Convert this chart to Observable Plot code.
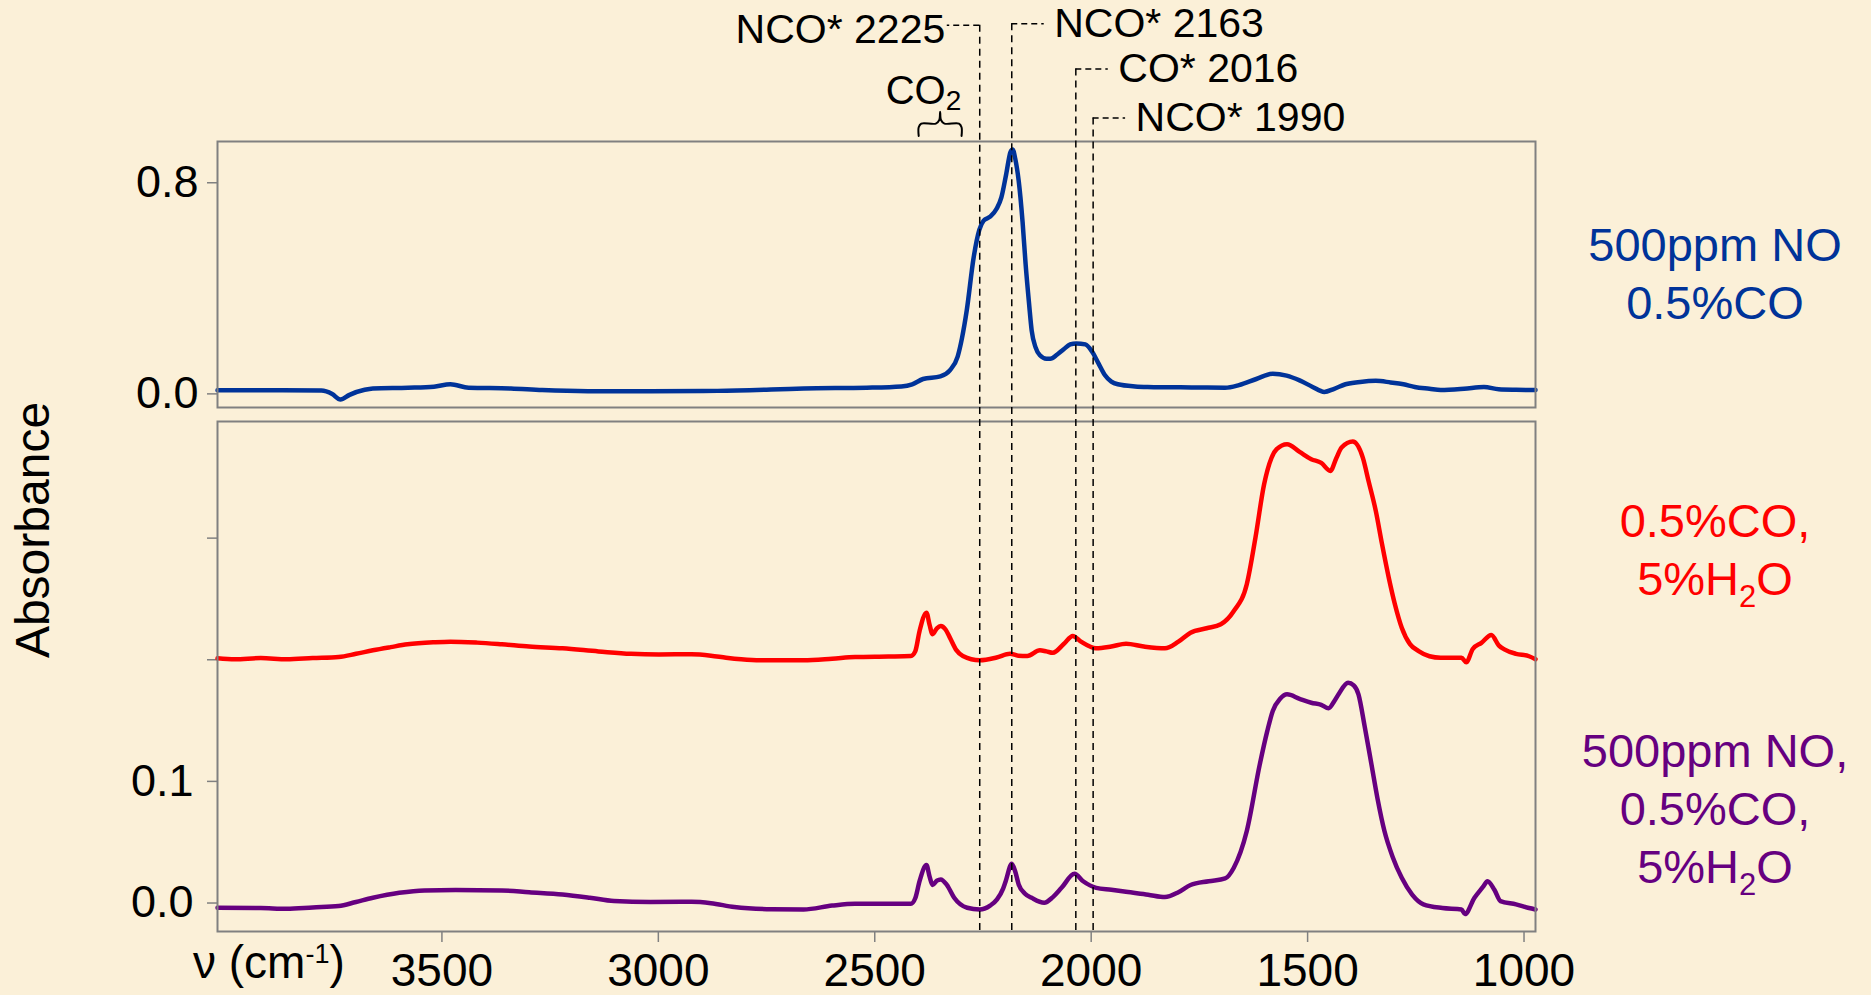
<!DOCTYPE html>
<html>
<head>
<meta charset="utf-8">
<script src="https://cdn.jsdelivr.net/npm/d3@7"></script>
<script src="https://cdn.jsdelivr.net/npm/@observablehq/plot@0.6"></script>
<style>
html, body { margin: 0; padding: 0; background: #FBF0D8; }
#chart { position: relative; width: 1871px; height: 995px; overflow: hidden;
  font-family: "Liberation Sans", Arial, sans-serif; background: #FBF0D8; }
#chart svg { position: absolute; left: 0; top: 0; }
.lab { position: absolute; white-space: nowrap; color: #000; }
.lab sub { font-size: 31px; vertical-align: -12px; line-height: 0; }
.lab sup { font-size: 27px; vertical-align: 15px; line-height: 0; }
</style>
</head>
<body>
<div id="chart"></div>
<script>
// ---------------- DATA ----------------
// wavenumber (cm-1) and absorbance
const blueWn = [4000,3850,3760,3735,3716,3695,3660,3641,3560,3500,3462,3420,3322,3250,3144,3000,2845,2700,2646,2500,2420,2395,2370,2330,2308,2290,2280,2269,2253,2240,2230,2215,2200,2189,2178,2168,2163,2157,2149,2140,2133,2125,2119,2110,2100,2085,2076,2060,2045,2030,2016,1995,1980,1965,1950,1935,1920,1880,1851,1750,1672,1640,1600,1562,1530,1500,1470,1443,1420,1394,1360,1324,1290,1260,1234,1200,1174,1120,1074,1040,1000,955];
const blueAbs = [0.002,0.002,0.001,-0.012,-0.033,-0.015,0.004,0.009,0.012,0.016,0.025,0.012,0.009,0.003,-0.001,-0.001,0.000,0.006,0.009,0.012,0.017,0.025,0.045,0.055,0.078,0.13,0.2,0.305,0.506,0.61,0.645,0.66,0.69,0.733,0.82,0.905,0.915,0.88,0.796,0.64,0.48,0.33,0.229,0.165,0.135,0.122,0.122,0.138,0.158,0.176,0.18,0.176,0.15,0.105,0.06,0.035,0.025,0.017,0.015,0.013,0.012,0.022,0.045,0.065,0.058,0.040,0.015,-0.004,0.008,0.025,0.034,0.038,0.032,0.025,0.015,0.008,0.003,0.008,0.015,0.006,0.004,0.003];

const redWn = [4000,3960,3900,3840,3780,3720,3680,3641,3600,3561,3500,3462,3400,3343,3280,3203,3120,3045,2980,2905,2860,2825,2790,2746,2646,2580,2527,2450,2398,2388,2378,2362,2355,2348,2338,2329,2318,2308,2293,2278,2239,2200,2169,2150,2129,2100,2085,2070,2045,2024,2005,1970,1935,1901,1860,1811,1780,1752,1715,1682,1652,1622,1602,1582,1565,1553,1529,1500,1473,1450,1429,1415,1403,1377,1354,1340,1324,1310,1294,1280,1264,1245,1225,1200,1174,1126,1115,1100,1080,1057,1040,1027,1000,970,955];
const redAbs = [0.2053,0.2045,0.2055,0.2045,0.2055,0.2064,0.2090,0.2119,0.2145,0.2168,0.2185,0.2190,0.2182,0.2168,0.2150,0.2135,0.2110,0.2090,0.2085,0.2086,0.2075,0.2058,0.2045,0.2037,0.2037,0.2050,0.2064,0.2068,0.2072,0.2110,0.2278,0.2428,0.2330,0.2251,0.2300,0.2319,0.2290,0.2223,0.2120,0.2072,0.2037,0.2060,0.2091,0.2075,0.2072,0.2119,0.2110,0.2099,0.2170,0.2237,0.2190,0.2135,0.2150,0.2173,0.2150,0.2135,0.2190,0.2264,0.2300,0.2333,0.2442,0.2662,0.3045,0.3484,0.3700,0.3772,0.3813,0.3750,0.3690,0.3660,0.3594,0.3700,0.3786,0.3835,0.3703,0.3500,0.3265,0.3000,0.2716,0.2500,0.2305,0.2170,0.2113,0.2070,0.2058,0.2058,0.2020,0.2130,0.2180,0.2245,0.2160,0.2127,0.2090,0.2070,0.2045];

const purpleWn = [4000,3900,3840,3780,3720,3680,3641,3580,3522,3450,3343,3280,3203,3140,3084,3000,2905,2860,2806,2720,2646,2580,2527,2398,2388,2378,2362,2355,2348,2338,2329,2315,2298,2268,2239,2215,2199,2185,2179,2165,2157,2149,2135,2119,2090,2070,2050,2020,2000,1970,1935,1901,1850,1811,1780,1752,1710,1672,1652,1622,1592,1575,1562,1545,1529,1500,1473,1450,1433,1420,1410,1388,1375,1364,1350,1334,1320,1304,1285,1264,1240,1214,1170,1126,1118,1096,1075,1066,1050,1036,1000,970,955];
const purpleAbs = [0.0002,0.0000,-0.0006,0.0005,0.0016,0.0050,0.0084,0.0125,0.0145,0.0148,0.0145,0.0130,0.0112,0.0085,0.0057,0.0050,0.0051,0.0040,0.0008,-0.0010,-0.0012,0.0020,0.0035,0.0035,0.0080,0.0221,0.0353,0.0260,0.0189,0.0225,0.0235,0.0190,0.0084,0.0002,-0.0012,0.0020,0.0071,0.0160,0.0221,0.0364,0.0300,0.0194,0.0120,0.0084,0.0043,0.0090,0.0166,0.0281,0.0220,0.0166,0.0150,0.0133,0.0110,0.0090,0.0130,0.0189,0.0220,0.0243,0.0331,0.0633,0.1181,0.1450,0.1620,0.1720,0.1757,0.1720,0.1688,0.1670,0.1642,0.1700,0.1757,0.1852,0.1830,0.1757,0.1500,0.1181,0.0900,0.0633,0.0420,0.0248,0.0110,0.0030,0.0000,-0.0012,-0.0050,0.0084,0.0180,0.0221,0.0150,0.0057,0.0030,0.0000,-0.0012];

const xTicks = [3500, 3000, 2500, 2000, 1500, 1000];
const topYTicks = [0, 0.8];
const bottomYTicks = [0, 0.1, 0.2, 0.3];
const bottomYLabelled = [0, 0.1];

const peakLabels = ["NCO* 2225", "NCO* 2163", "CO* 2016", "NCO* 1990"];
const peakLineWn = [2239, 2165, 2017, 1977];
const co2Label = "CO";
const co2Sub = "2";
const co2Band = [2380, 2281];

const seriesLabels = [
  ["500ppm NO", "0.5%CO"],
  ["0.5%CO,", "5%H2O"],
  ["500ppm NO,", "0.5%CO,", "5%H2O"]
];
const yAxisTitle = "Absorbance";

// ---------------- LAYOUT / STYLE ----------------
const W = 1871, H = 995;
const FRAME_L = 217, FRAME_R = 1535;
const TOP_T = 141, TOP_B = 407, BOT_T = 421, BOT_B = 931;
const xDomain = [4000, 955];
const topYDomain = [-0.063, 0.945];
const botYDomain = [-0.0193, 0.4];
const FONT = '"Liberation Sans", Arial, sans-serif';
const GRAY = "#808080";
const COLORS = ["#003399", "#FF0000", "#660080"];
const labelTops = [216, 492, 722];
const labelCenterX = 1715;
// annotation heights in top-panel absorbance units
const annoLevel = [1.386, 1.391, 1.22, 1.034];
const annoSide = [-1, 1, 1, 1];   // -1 = text left of line, 1 = right
const DASH_WN = 75;

const toRows = (wn, ab) => wn.map((w, i) => ({wn: w, abs: ab[i]}));
const blue = toRows(blueWn, blueAbs);
const red = toRows(redWn, redAbs);
const purple = toRows(purpleWn, purpleAbs);

const anno = peakLabels.map((label, i) => ({
  label, x: peakLineWn[i], y: annoLevel[i], side: annoSide[i],
  xEnd: peakLineWn[i] - annoSide[i] * DASH_WN
}));

// curly brace over CO2 band (built from the band limits)
const [b0, b1] = co2Band;
const bm = (b0 + b1) / 2;
const bw = b0 - b1;
const yEnd = 0.966, yH = 1.013, yC = 1.058;
const brace = [
  {x: b0, y: yEnd}, {x: b0, y: yEnd + 0.7 * (yH - yEnd)}, {x: b0 - 0.06 * bw, y: yH},
  {x: bm + 0.1 * bw, y: yH}, {x: bm + 0.02 * bw, y: yH + 0.3 * (yC - yH)}, {x: bm, y: yC},
  {x: bm - 0.02 * bw, y: yH + 0.3 * (yC - yH)}, {x: bm - 0.1 * bw, y: yH},
  {x: b1 + 0.06 * bw, y: yH}, {x: b1, y: yEnd + 0.7 * (yH - yEnd)}, {x: b1, y: yEnd}
];
const co2TextX = b1 + 0.37 * bw;

const chart = document.getElementById("chart");

// ---------------- TOP PANEL ----------------
const topPlot = Plot.plot({
  width: W, height: H,
  marginLeft: FRAME_L, marginRight: W - FRAME_R,
  marginTop: TOP_T, marginBottom: H - TOP_B,
  style: {background: "transparent", fontFamily: FONT, overflow: "visible"},
  x: {domain: xDomain, axis: null},
  y: {domain: topYDomain},
  marks: [
    Plot.axisY({ticks: topYTicks, tickFormat: d => d.toFixed(1), tickSize: 10, tickPadding: 9,
      fontSize: 45, stroke: GRAY, strokeWidth: 1.5, fill: "black", dy: 3, label: null}),
    Plot.line(blue, {x: "wn", y: "abs", stroke: COLORS[0], strokeWidth: 4.5, curve: "monotone-x"}),
    Plot.frame({stroke: GRAY, strokeWidth: 2}),
    Plot.ruleX(anno, {x: "x", y1: "y", y2: () => topYDomain[0], stroke: "black",
      strokeWidth: 1.5, strokeDasharray: "7,5"}),
    Plot.ruleY(anno, {y: "y", x1: "x", x2: "xEnd", stroke: "black", strokeWidth: 1.5, strokeDasharray: "6,4"}),
    Plot.text(anno.filter(d => d.side < 0), {x: "xEnd", y: "y", text: "label", textAnchor: "end",
      dx: -2, dy: 5, fontSize: 41, fill: "black"}),
    Plot.text(anno.filter(d => d.side > 0), {x: "xEnd", y: "y", text: "label", textAnchor: "start",
      dx: 10, fontSize: 41, fill: "black"}),
    Plot.line(brace, {x: "x", y: "y", stroke: "black", strokeWidth: 2, curve: "catmull-rom"}),
    Plot.text([co2Label], {x: () => co2TextX, y: () => 1.137, text: d => d, textAnchor: "end",
      fontSize: 40, fill: "black"}),
    Plot.text([co2Sub], {x: () => co2TextX, y: () => 1.099, text: d => d, textAnchor: "start",
      fontSize: 28, fill: "black"})
  ]
});
chart.appendChild(topPlot);

// ---------------- BOTTOM PANEL ----------------
const botPlot = Plot.plot({
  width: W, height: H,
  marginLeft: FRAME_L, marginRight: W - FRAME_R,
  marginTop: BOT_T, marginBottom: H - BOT_B,
  style: {background: "transparent", fontFamily: FONT, overflow: "visible"},
  x: {domain: xDomain},
  y: {domain: botYDomain},
  marks: [
    Plot.axisY({ticks: bottomYTicks,
      tickFormat: d => bottomYLabelled.some(v => Math.abs(v - d) < 1e-9) ? d.toFixed(1) : "",
      tickSize: 10, tickPadding: 14, fontSize: 45, stroke: GRAY, strokeWidth: 1.5, fill: "black",
      dy: -5, label: null}),
    Plot.axisX({ticks: xTicks, tickFormat: d => String(d), tickSize: 11, tickPadding: 11,
      fontSize: 46, stroke: GRAY, strokeWidth: 1.5, fill: "black", dx: 8, label: null}),
    Plot.line(red, {x: "wn", y: "abs", stroke: COLORS[1], strokeWidth: 4.5, curve: "monotone-x"}),
    Plot.line(purple, {x: "wn", y: "abs", stroke: COLORS[2], strokeWidth: 4.5, curve: "monotone-x"}),
    Plot.frame({stroke: GRAY, strokeWidth: 2}),
    Plot.ruleX(peakLineWn, {x: d => d, insetTop: -(BOT_T - TOP_B), stroke: "black",
      strokeWidth: 1.5, strokeDasharray: "7,5"})
  ]
});
chart.appendChild(botPlot);

// ---------------- HTML TEXT ----------------
const fmt = s => s.replace("H2O", "H<sub>2</sub>O");
seriesLabels.forEach((lines, i) => {
  const div = document.createElement("div");
  div.className = "lab";
  div.style.left = (labelCenterX - 200) + "px";
  div.style.width = "400px";
  div.style.textAlign = "center";
  div.style.top = labelTops[i] + "px";
  div.style.fontSize = "47px";
  div.style.lineHeight = "58px";
  div.style.color = COLORS[i];
  div.innerHTML = lines.map(fmt).join("<br>");
  chart.appendChild(div);
});

const yt = document.createElement("div");
yt.className = "lab";
yt.style.fontSize = "48px";
yt.style.lineHeight = "48px";
yt.style.left = "33px";
yt.style.top = "530px";
yt.style.transform = "translate(-50%, -50%) rotate(-90deg)";
yt.textContent = yAxisTitle;
chart.appendChild(yt);

const xt = document.createElement("div");
xt.className = "lab";
xt.style.fontSize = "46px";
xt.style.lineHeight = "46px";
xt.style.left = "193px";
xt.style.top = "939px";
xt.innerHTML = "\u03BD (cm<sup>-1</sup>)";
chart.appendChild(xt);
</script>
</body>
</html>
